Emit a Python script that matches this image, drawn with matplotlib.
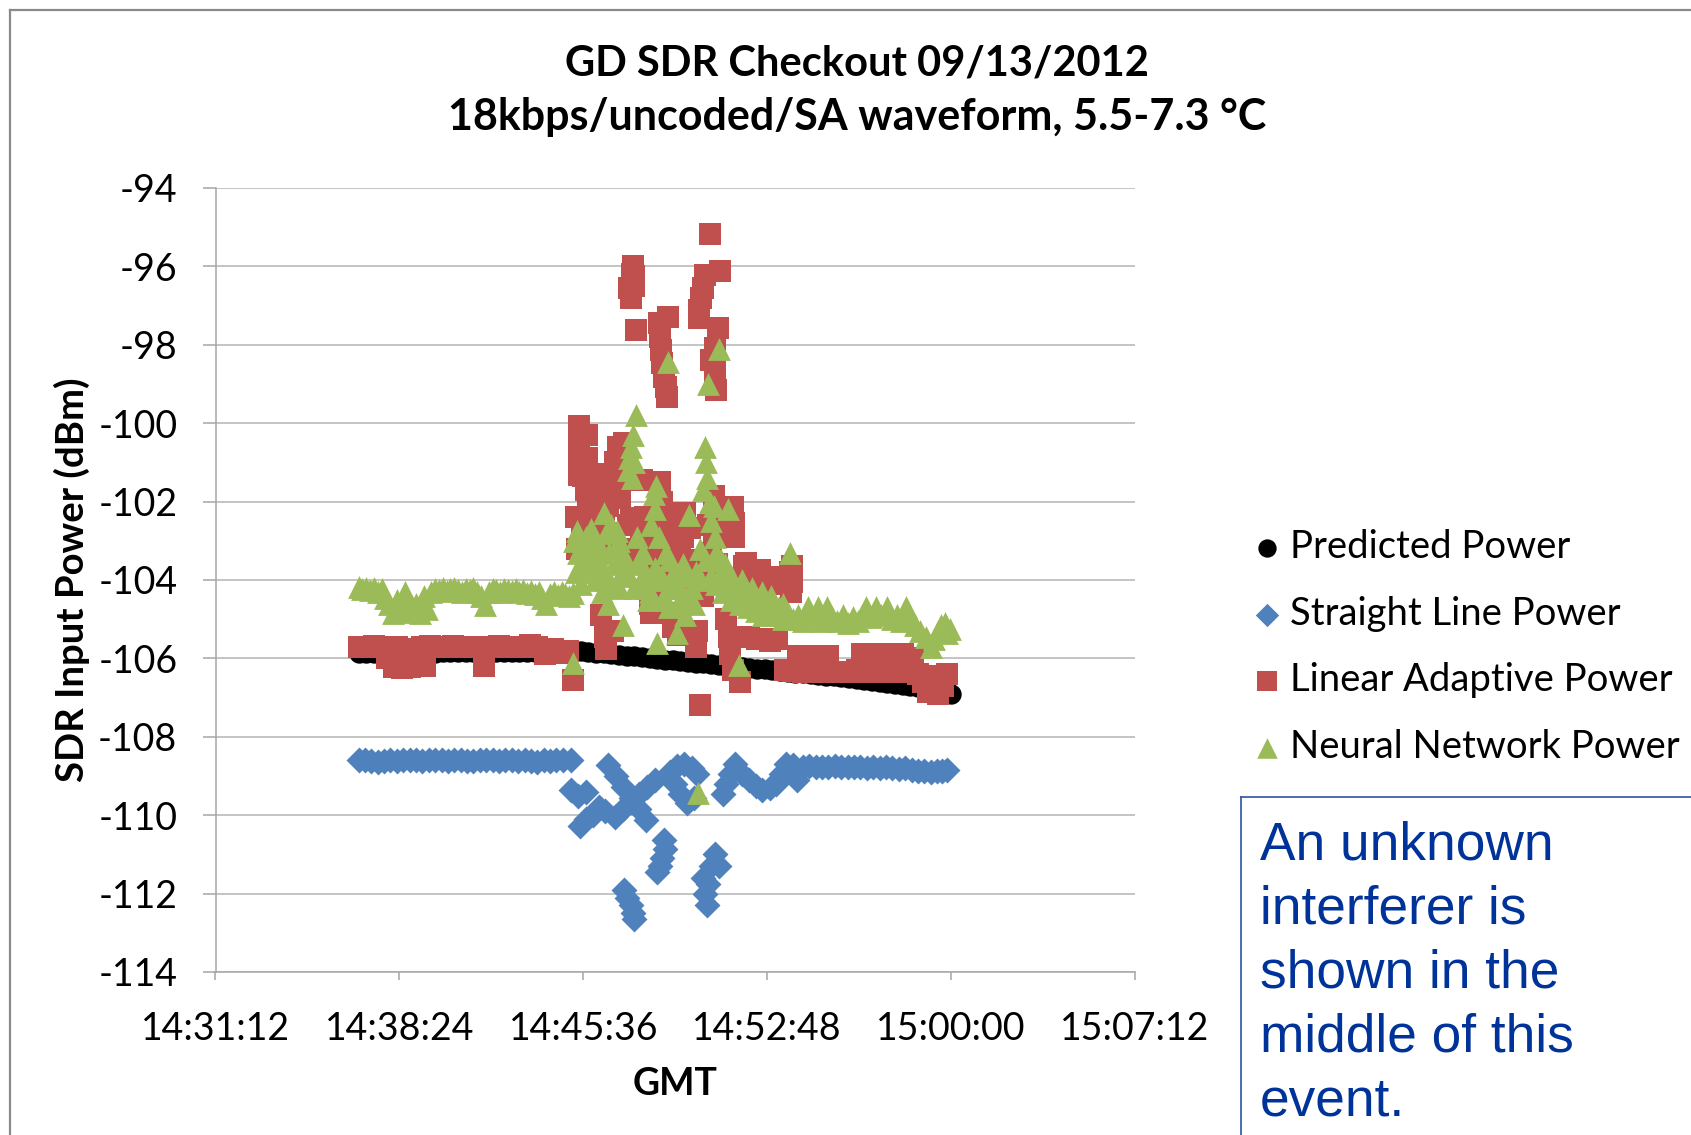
import matplotlib
matplotlib.use("Agg")
import matplotlib.pyplot as plt
from matplotlib.lines import Line2D

# ---------------------------------------------------------------------------
# Data: times are minutes past 14:00 GMT, power in dBm
# ---------------------------------------------------------------------------
x_tick_labels = ["14:31:12", "14:38:24", "14:45:36", "14:52:48", "15:00:00", "15:07:12"]
y_ticks = [-94, -96, -98, -100, -102, -104, -106, -108, -110, -112, -114]

series_names = ["Predicted Power", "Straight Line Power",
                "Linear Adaptive Power", "Neural Network Power"]

pred_min = [36.8, 37.1, 37.4, 37.7, 38.0, 38.3, 38.6, 38.9, 39.2, 39.5, 39.8, 40.1,
            40.4, 40.7, 41.0, 41.3, 41.6, 41.9, 42.2, 42.5, 42.8, 43.1, 43.4, 43.7,
            44.0, 44.3, 44.6, 44.9, 45.2, 45.5, 45.8, 46.1, 46.4, 46.7, 47.0, 47.3,
            47.6, 47.9, 48.2, 48.5, 48.8, 49.1, 49.4, 49.7, 50.0, 50.3, 50.6, 50.9,
            51.2, 51.5, 51.8, 52.1, 52.4, 52.7, 53.0, 53.3, 53.6, 53.9, 54.2, 54.5,
            54.8, 55.1, 55.4, 55.7, 56.0, 56.3, 56.6, 56.9, 57.2, 57.5, 57.8, 58.1,
            58.4, 58.7, 59.0, 59.3, 59.6, 59.9, 60.0]
pred_dbm = [-105.86, -105.86, -105.86, -105.85, -105.85, -105.85, -105.85, -105.85,
            -105.85, -105.85, -105.85, -105.84, -105.84, -105.84, -105.84, -105.84,
            -105.84, -105.84, -105.84, -105.83, -105.83, -105.83, -105.83, -105.83,
            -105.83, -105.83, -105.82, -105.82, -105.82, -105.82, -105.83, -105.85,
            -105.87, -105.89, -105.91, -105.93, -105.95, -105.97, -105.99, -106.01,
            -106.03, -106.05, -106.07, -106.09, -106.11, -106.13, -106.15, -106.17,
            -106.19, -106.21, -106.22, -106.24, -106.26, -106.28, -106.30, -106.32,
            -106.34, -106.36, -106.38, -106.40, -106.42, -106.44, -106.46, -106.48,
            -106.51, -106.53, -106.55, -106.58, -106.60, -106.63, -106.65, -106.68,
            -106.71, -106.74, -106.78, -106.81, -106.85, -106.89, -106.92]

line_min = [36.8, 37.05, 37.3, 37.55, 37.8, 38.05, 38.3, 38.55, 38.8, 39.05, 39.3,
            39.55, 39.8, 40.05, 40.3, 40.55, 40.8, 41.05, 41.3, 41.55, 41.8, 42.05,
            42.3, 42.55, 42.8, 43.05, 43.3, 43.55, 43.8, 44.05, 44.3, 44.55, 44.8, 45.1,
            45.1, 45.4, 45.7, 45.46, 45.7, 45.98, 46.2, 46.45,
            46.57, 46.87, 47.17, 47.47, 47.77, 48.07,
            46.83, 47.15, 47.47, 47.78, 48.1, 48.4,
            49.0, 49.25, 49.55, 49.85, 50.05, 49.2, 49.4, 49.65, 49.95,
            51.07, 51.2, 51.33, 51.55, 51.8, 52.1, 52.35, 52.6, 52.9, 53.15, 53.35,
            53.55, 53.8, 53.95, 54.2, 54.45, 54.7, 54.95, 55.2, 55.45, 55.7, 55.95,
            56.2, 56.45, 56.7, 56.95, 57.2, 57.45, 57.7, 57.95, 58.2, 58.45, 58.7,
            58.95, 59.2, 59.45, 59.65, 59.85,
            48.75, 48.8, 48.7, 48.6, 48.5,
            47.2, 47.3, 47.45, 47.55, 47.6,
            50.75, 50.9, 50.6, 50.3, 50.5, 50.35, 50.45]
line_dbm = [-108.58, -108.60, -108.62, -108.64, -108.62, -108.60, -108.63, -108.60,
            -108.58, -108.60, -108.62, -108.60, -108.59, -108.60, -108.61, -108.59,
            -108.60, -108.62, -108.63, -108.60, -108.58, -108.60, -108.62, -108.60,
            -108.59, -108.61, -108.60, -108.62, -108.64, -108.60, -108.61, -108.59,
            -108.60, -108.60,
            -109.35, -109.5, -109.4, -110.28, -110.1, -110.0, -109.8, -109.9,
            -108.72, -109.0, -109.28, -109.56, -109.84, -110.12,
            -110.04, -109.85, -109.66, -109.47, -109.28, -109.1,
            -108.9, -108.75, -108.7, -108.8, -108.95, -109.2, -109.45, -109.7, -109.55,
            -109.45, -109.2, -108.95, -108.7, -108.95, -109.1, -109.25, -109.35, -109.3,
            -109.2, -108.95, -108.7, -108.72, -109.1, -108.78, -108.75, -108.76,
            -108.78, -108.76, -108.74, -108.78, -108.76, -108.78, -108.77, -108.79,
            -108.78, -108.80, -108.78, -108.80, -108.82, -108.80, -108.84, -108.86,
            -108.88, -108.90, -108.88, -108.86, -108.85,
            -110.62, -110.85, -111.1, -111.3, -111.45,
            -111.9, -112.1, -112.3, -112.5, -112.65,
            -111.0, -111.3, -111.3, -111.6, -111.75, -112.0, -112.3]

adapt_min = [36.8, 37.1, 37.4, 37.7, 37.9, 38.2, 38.3, 38.5, 38.7, 38.8, 39.1, 39.3,
             39.4, 39.6, 39.9, 40.2, 40.5, 40.8, 41.1, 41.4, 41.7, 42.0, 42.3, 42.6,
             42.9, 43.2, 43.5, 43.8, 44.1, 44.4, 44.7, 45.0, 45.2,
             45.3, 45.35, 45.43, 45.43, 45.43, 45.43, 45.76, 45.76, 45.76, 45.6, 45.7,
             45.8, 45.9, 46.0, 46.1, 46.18, 46.2, 46.3, 46.4, 45.76, 45.55, 46.45,
             46.55, 46.65, 46.75, 46.82, 46.85, 46.95, 47.03, 47.05, 47.2, 47.24,
             47.25, 47.3, 47.35, 47.45, 47.45, 46.82, 47.66, 47.66, 47.87,
             46.3, 46.45, 46.5, 46.75,
             47.55, 47.6, 47.6, 47.45, 47.5, 47.4, 47.68,
             48.55, 48.6, 48.65, 48.7, 48.75, 48.82, 48.86, 48.92,
             50.55, 50.94, 50.35, 50.29, 50.22, 50.13, 50.13, 50.87, 50.74, 50.61,
             50.74, 50.74, 50.78,
             47.9, 48.0, 48.1, 48.2, 48.25, 48.29, 48.3, 48.4, 48.59, 48.6, 48.7, 48.72,
             48.8, 48.9, 49.0, 49.1, 49.14, 49.2, 49.3, 49.35, 49.4, 49.5, 49.6, 49.7,
             49.77, 49.85, 50.0, 50.05, 50.16, 50.3, 50.4, 50.5, 50.6, 50.7, 50.7,
             50.85, 50.95, 51.0, 51.2, 51.3, 51.35, 51.37, 51.46, 51.46, 51.5, 51.5,
             51.45, 51.72, 51.88, 51.98, 52.5, 52.51, 53.02, 53.15, 51.8, 52.1, 52.4,
             52.7, 52.9, 53.2, 53.5, 53.7, 53.75, 53.78, 53.78,
             53.5, 53.8, 54.0, 54.2, 54.4, 54.6, 54.8, 55.0, 55.2, 55.4, 55.7, 56.0,
             56.3, 56.5, 56.7, 56.9, 57.1, 57.3, 57.5, 57.7, 57.9, 58.1, 58.3, 58.5,
             58.7, 58.9, 59.1, 59.3, 59.5, 59.7, 59.85]
adapt_dbm = [-105.70, -105.72, -105.68, -105.72, -106.0, -106.22, -105.70, -106.25,
             -105.75, -106.22, -106.2, -105.70, -106.2, -105.68, -105.72, -105.70,
             -105.68, -105.72, -105.70, -105.70, -106.2, -105.70, -105.68, -105.70,
             -105.72, -105.70, -105.66, -105.70, -105.9, -105.75, -105.85, -105.8, -106.55,
             -102.4, -103.2, -100.07, -100.48, -100.9, -101.31, -100.3, -100.9,
             -101.58, -101.35, -101.7, -102.0, -101.5, -102.3, -101.3, -102.0, -102.6,
             -101.8, -102.41, -102.41, -102.82, -103.0, -102.1, -101.45, -102.8,
             -101.31, -101.0, -100.6, -101.86, -101.9, -100.5, -101.03, -100.85,
             -101.3, -102.6, -103.2, -102.41, -102.96, -101.45, -103.51, -102.96,
             -104.9, -105.45, -105.75, -105.3,
             -96.0, -96.25, -96.5, -96.8, -96.2, -96.55, -97.62,
             -97.45, -97.8, -98.13, -98.47, -98.81, -99.07, -99.32, -97.28,
             -95.18, -96.13, -96.22, -96.56, -96.81, -97.11, -97.32, -97.58, -98.09,
             -98.39, -98.64, -98.94, -99.15,
             -101.45, -102.4, -103.0, -104.6, -104.85, -102.68, -103.5, -102.7,
             -104.06, -101.5, -102.0, -103.24, -102.3, -103.9, -103.3, -105.2,
             -102.82, -104.85, -105.4, -103.51, -103.2, -102.9, -102.3, -103.5,
             -102.68, -104.0, -105.7, -105.3, -107.19, -104.4, -103.8, -102.6, -103.3,
             -102.8, -101.86, -103.6, -102.41, -104.0, -105.0, -105.45, -105.9,
             -102.14, -102.13, -102.82, -102.55, -102.9, -106.3, -106.6, -103.65,
             -103.57, -103.74, -103.79, -103.92, -103.92, -104.0, -105.45, -105.5,
             -104.1, -105.55, -105.5, -104.1, -103.8, -104.3, -104.06, -103.65,
             -106.3, -106.32, -105.93, -106.35, -105.93, -106.35, -105.93, -106.35,
             -105.93, -106.35, -106.35, -106.35, -106.3, -105.9, -106.35, -105.88,
             -106.35, -105.9, -106.35, -105.88, -106.35, -105.9, -106.35, -106.0,
             -106.4, -106.6, -106.85, -106.45, -106.9, -106.7, -106.4]

neural_min = [36.8, 36.95, 37.1, 37.25, 37.4, 37.55, 37.7, 37.85, 38.0, 38.15, 38.3,
              38.45, 38.6, 38.75, 38.9, 39.05, 39.2, 39.35, 39.5, 39.65, 39.8, 39.95,
              40.1, 40.25, 40.4, 40.55, 40.7, 40.85, 41.0, 41.15, 41.3, 41.45, 41.6,
              41.75, 41.9, 42.05, 42.2, 42.35, 42.5, 42.65, 42.8, 42.95, 43.1, 43.25,
              43.4, 43.55, 43.7, 43.85, 44.0, 44.15, 44.3, 44.45, 44.6, 44.75, 44.9,
              45.05, 45.2, 45.2,
              45.25, 45.35, 45.4, 45.5, 45.55, 45.65, 45.75, 45.85, 45.95, 46.05, 46.15,
              46.25, 46.35, 46.4, 46.45, 46.55, 46.6, 46.7, 46.8, 46.9, 46.95, 47.0,
              47.1, 47.15, 47.25, 47.35, 47.4, 47.45, 47.5, 47.55, 47.6, 47.65, 47.7,
              47.75, 47.85, 47.95, 48.05, 48.15, 48.25, 48.35, 48.4, 48.45, 48.5, 48.55,
              48.65, 48.75, 48.9, 48.85, 48.95, 49.05, 49.15, 49.25, 49.3, 49.4, 49.5,
              49.6, 49.7, 49.75, 49.85, 49.95, 50.1, 50.15, 50.3, 50.35, 50.4, 50.45,
              50.5, 50.55, 50.6, 50.7, 50.75, 50.8, 50.9, 50.95, 51.05, 51.15, 51.25,
              51.3, 51.4, 51.55, 51.7, 51.75, 51.9, 52.05, 52.2, 52.35, 52.5, 52.65,
              52.8, 52.95, 53.1, 53.25, 53.4, 53.7,
              45.3, 45.5, 45.7, 45.9, 46.1, 46.3, 46.5, 46.7, 47.0, 47.2, 47.4, 47.6,
              47.8, 48.0, 48.2, 48.4, 48.6, 48.8, 49.0, 49.2, 49.4, 49.6, 49.8, 50.0,
              50.2, 50.4, 50.6, 50.8, 51.0, 51.2, 51.4, 51.6, 51.8, 52.0, 52.2, 52.4,
              52.6, 52.8, 53.0, 53.2, 53.4,
              53.6, 53.8, 54.0, 54.2, 54.38, 54.55, 54.77, 54.95, 55.16, 55.35, 55.55,
              55.75, 55.95, 56.15, 56.35, 56.5, 56.68, 56.85, 57.07, 57.25, 57.5, 57.7,
              57.9, 58.05, 58.25, 58.4, 58.6, 58.8, 59.0, 59.2, 59.35, 59.5, 59.6,
              59.75, 59.85, 59.95]
neural_dbm = [-104.18, -104.22, -104.2, -104.25, -104.2, -104.3, -104.22, -104.45,
              -104.6, -104.85, -104.5, -104.78, -104.3, -104.55, -104.82, -104.6,
              -104.85, -104.4, -104.75, -104.3, -104.22, -104.25, -104.2, -104.28,
              -104.22, -104.2, -104.26, -104.3, -104.22, -104.25, -104.2, -104.3,
              -104.4, -104.65, -104.3, -104.22, -104.26, -104.3, -104.22, -104.25,
              -104.28, -104.24, -104.3, -104.26, -104.32, -104.28, -104.35, -104.3,
              -104.45, -104.62, -104.35, -104.3, -104.38, -104.3, -104.35, -104.4,
              -104.32, -106.13,
              -103.0, -102.75, -103.3, -103.6, -103.1, -103.45, -103.8, -103.35, -103.6,
              -104.0, -103.4, -103.75, -104.3, -102.3, -103.9, -104.6, -103.3, -104.1,
              -103.6, -102.75, -103.2, -104.2, -103.8, -105.15, -103.5, -101.2, -100.9,
              -100.6, -101.4, -100.3, -101.0, -99.8, -102.9, -103.6, -104.0, -103.3,
              -104.2, -104.5, -102.6, -101.8, -102.2, -101.6, -105.6, -102.9, -103.9,
              -104.4, -98.45, -103.3, -104.7, -104.2, -103.8, -105.35, -104.6, -104.2,
              -103.6, -104.9, -104.4, -102.35, -104.2, -104.6, -109.44, -103.2, -101.7,
              -100.6, -101.0, -101.4, -99.0, -102.0, -102.5, -102.1, -102.9, -103.3,
              -98.1, -103.9, -104.3, -103.6, -102.2, -104.0, -104.5, -104.2, -106.17,
              -104.6, -104.3, -104.7, -104.4, -104.8, -104.5, -104.9, -104.6, -104.4,
              -104.9, -104.7, -105.0, -103.32,
              -103.8, -104.1, -102.9, -102.7, -103.0, -103.2, -102.8, -102.6, -103.0,
              -103.4, -103.9, -104.2, -103.5, -103.8, -104.3, -103.7, -104.0, -104.5,
              -103.5, -104.1, -104.5, -103.9, -104.5, -103.8, -104.0, -103.5, -103.9,
              -104.1, -103.5, -104.2, -103.9, -104.4, -104.0, -104.4, -104.2, -104.6,
              -104.3, -104.7, -104.5, -104.8, -104.6,
              -104.85, -105.0, -104.9, -105.05, -104.7, -104.95, -104.7, -105.05,
              -104.7, -104.95, -105.05, -104.9, -105.1, -104.95, -105.05, -104.9,
              -104.7, -104.95, -104.7, -104.9, -104.7, -105.0, -104.9, -105.05, -104.7,
              -105.0, -105.15, -105.3, -105.45, -105.7, -105.5, -105.3, -105.15, -105.1,
              -105.35, -105.25]


def clock_to_min(label):
    h, m, s = (int(v) for v in label.split(":"))
    return (h - 14) * 60 + m + s / 60.0


W, H = 1691, 1135
fig = plt.figure(figsize=(W / 100, H / 100), dpi=100)
fig.patch.set_facecolor("white")

# plot area in pixel coordinates converted to figure fractions
left_px, right_px, top_px, bottom_px = 215.5, 1135.0, 188.0, 972.0
ax = fig.add_axes([left_px / W, 1 - bottom_px / H,
                   (right_px - left_px) / W, (bottom_px - top_px) / H])

BODY = "Lato"
grid_col = "#b4b4b4"
axis_col = "#a6a6a6"

ax.scatter(pred_min, pred_dbm, s=215, marker="o", color="black",
           linewidths=0, zorder=3, clip_on=False, label=series_names[0])
ax.scatter(line_min, line_dbm, s=175, marker="D", color="#4F81BD",
           linewidths=0, zorder=4, clip_on=False, label=series_names[1])
ax.scatter(adapt_min, adapt_dbm, s=262, marker="s", color="#C0504D",
           linewidths=0, zorder=5, clip_on=False, label=series_names[2])
ax.scatter(neural_min, neural_dbm, s=270, marker="^", color="#9BBB59",
           linewidths=0, zorder=6, clip_on=False, label=series_names[3])

xticks = [clock_to_min(t) for t in x_tick_labels]
ax.set_xlim(xticks[0], xticks[-1])
ax.set_ylim(-114, -94)
ax.set_xticks(xticks)
ax.set_xticklabels(x_tick_labels)
ax.set_yticks(y_ticks)
ax.set_yticklabels([str(v) for v in y_ticks])

ax.grid(axis="y", color=grid_col, linewidth=1.1, zorder=0)
ax.set_axisbelow(True)
for side in ("top", "right"):
    ax.spines[side].set_visible(False)
for side in ("left", "bottom"):
    ax.spines[side].set_color(axis_col)
    ax.spines[side].set_linewidth(1.1)

ax.tick_params(axis="y", direction="out", length=9.5, width=1.1, color=axis_col,
               pad=18, labelsize=27, labelcolor="black")
ax.tick_params(axis="x", direction="out", length=6, width=1.1, color=axis_col,
               pad=22, labelsize=27, labelcolor="black")
for lab in ax.get_xticklabels() + ax.get_yticklabels():
    lab.set_family(BODY)

ax.set_ylabel("SDR Input Power (dBm)", family=BODY, fontweight="bold", fontsize=27.5)
ax.yaxis.set_label_coords((72 - left_px) / (right_px - left_px), 0.5)
ax.set_xlabel("GMT", family=BODY, fontweight="bold", fontsize=27)
ax.xaxis.set_label_coords(0.5, -(1084 - bottom_px) / (bottom_px - top_px))
ax.xaxis.label.set_va("center")
ax.yaxis.label.set_va("center")

# chart title, two lines
fig.text(857 / W, 1 - 75 / H, "GD SDR Checkout 09/13/2012", family=BODY,
         fontweight="bold", fontsize=30, ha="center", va="baseline")
fig.text(857 / W, 1 - 130 / H, "18kbps/uncoded/SA waveform, 5.5-7.3 \u00b0C",
         family=BODY, fontweight="bold", fontsize=31, ha="center", va="baseline")

# legend on the right
handles, labels = ax.get_legend_handles_labels()
fig.legend(handles, labels, loc="upper left",
           bbox_to_anchor=(1248 / W, 1 - 529 / H), frameon=False,
           prop={"family": BODY, "size": 27.5}, handlelength=1.0,
           handletextpad=0.1, labelspacing=0.8, borderpad=0, borderaxespad=0,
           scatterpoints=1, markerscale=0.9)

# chart-area frame (left and top edges)
frame_col = "#8a8a8a"
fig.add_artist(Line2D([9.5 / W, 9.5 / W], [0, 1 - 10 / H],
                      transform=fig.transFigure, color=frame_col, lw=1.6))
fig.add_artist(Line2D([9.5 / W, 1], [1 - 10 / H, 1 - 10 / H],
                      transform=fig.transFigure, color=frame_col, lw=1.6))

# annotation box
box_col = "#2E54A6"
bx, by = 1240.5, 797.0
fig.add_artist(Line2D([bx / W, bx / W], [0, 1 - by / H],
                      transform=fig.transFigure, color=box_col, lw=1.2))
fig.add_artist(Line2D([bx / W, 1], [1 - by / H, 1 - by / H],
                      transform=fig.transFigure, color=box_col, lw=1.2))
note_lines = ["An unknown", "interferer is", "shown in the", "middle of this", "event."]
for i, line in enumerate(note_lines):
    fig.text(1260 / W, 1 - (859 + 64 * i) / H, line, family="Liberation Sans",
             fontsize=38.3, color="#003399", ha="left", va="baseline")

fig.savefig("out.png", dpi=100)
